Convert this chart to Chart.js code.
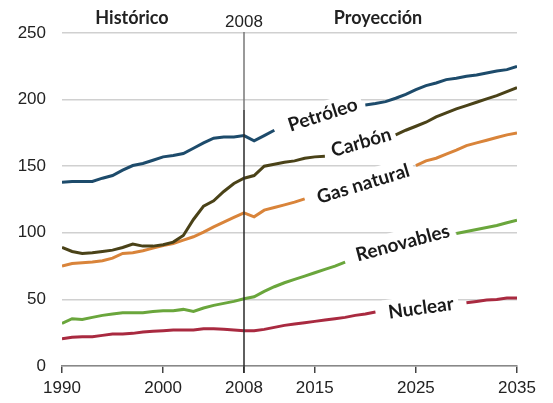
<!DOCTYPE html>
<html>
<head>
<meta charset="utf-8">
<script src="https://cdn.jsdelivr.net/npm/chart.js@4/dist/chart.umd.min.js"></script>
<style>
  html, body { margin: 0; padding: 0; background: #fff; }
  #box { width: 553px; height: 403px; }
</style>
</head>
<body>
<div id="box"><canvas id="dataChart"></canvas></div>
<script>
// years 1990..2035, null where the line is hidden behind its label
const years = [];
for (let y = 1990; y <= 2035; y++) years.push(y);

const petroleo = [138, 138.5, 138.5, 138.5, 141, 143, 147, 150.5, 152, 154.5,
  157, 158, 159.5, 163.5, 167.5, 171, 172, 172, 173, 169,
  173, 177, null, null, null, null, null, null, null, null,
  196, 197, 198.5, 201, 204, 207.5, 210.5, 212.5, 215, 216,
  217.5, 218.5, 220, 221.5, 222.5, 225];

const carbon = [89, 86, 84.5, 85, 86, 87, 89, 91.5, 90, 90,
  91, 93, 98, 110, 120, 124, 131, 137, 141, 143,
  150, 151.5, 153, 154, 156, 157, 157.5, null, null, null,
  null, null, null, 173.5, 177, 180, 183, 187, 190, 193,
  195.5, 198, 200.5, 203, 206, 209];

const gasNatural = [75, 77, 77.5, 78, 79, 81, 84.5, 85, 86.5, 88.5,
  90.5, 92, 94.5, 97, 100.5, 104.5, 108, 111.5, 115, 112,
  117, 119, 121, 123, 125.5, null, null, null, null, null,
  null, null, null, null, null, 150.5, 154, 156, 159, 162,
  165.5, 167.5, 169.5, 171.5, 173.5, 175];

const renovables = [32, 35.5, 35, 36.5, 38, 39, 40, 40, 40, 41,
  41.5, 41.5, 42.5, 41, 43.5, 45.5, 47, 48.5, 50.5, 52,
  56, 59.5, 62.5, 65, 67.5, 70, 72.5, 75, 78, null,
  null, null, null, null, null, null, null, null, null, 99.5,
  101, 102.5, 104, 105.5, 107.5, 109.5];

const nuclear = [20.5, 21.5, 22, 22, 23, 24, 24, 24.5, 25.5, 26,
  26.5, 27, 27, 27, 28, 28, 27.5, 27, 26.5, 26.5,
  27.5, 29, 30.5, 31.5, 32.5, 33.5, 34.5, 35.5, 36.5, 38,
  39, 40.5, null, null, null, null, null, null, null, null,
  47.5, 48.5, 49.5, 50, 51, 51];

const xTicks = [1990, 2000, 2008, 2015, 2025, 2035];
const yTicks = [0, 50, 100, 150, 200, 250];
const seriesNames = ['Petróleo', 'Carbón', 'Gas natural', 'Renovables', 'Nuclear'];
const splitYear = 2008;

const colors = ['#1d4b6b', '#4a4218', '#d9843a', '#6aa63c', '#a92a40'];
const allSeries = [petroleo, carbon, gasNatural, renovables, nuclear];

// where each name sits (data coords) and its tilt
const labelPos = [
  { x: 2015.8, y: 188.5, rot: -18 },
  { x: 2019.6, y: 167.8, rot: -16 },
  { x: 2019.8, y: 136.6, rot: -17 },
  { x: 2023.7, y: 92.3, rot: -15 },
  { x: 2025.5, y: 43.4, rot: -8 },
];

const labelFont = 'bold 19px Lato, "Open Sans", sans-serif';

const decoPlugin = {
  id: 'deco',
  beforeDatasetsDraw(chart) {
    // white boxes under the names cut the gridlines
    const { ctx, scales } = chart;
    ctx.save();
    ctx.font = labelFont;
    labelPos.forEach((p, i) => {
      const w = ctx.measureText(seriesNames[i]).width + 10;
      ctx.save();
      ctx.translate(scales.x.getPixelForValue(p.x), scales.y.getPixelForValue(p.y));
      ctx.rotate(p.rot * Math.PI / 180);
      ctx.fillStyle = '#fff';
      ctx.fillRect(-w / 2, -13, w, 26);
      ctx.restore();
    });
    ctx.restore();
  },
  afterDatasetsDraw(chart) {
    const { ctx, scales, chartArea } = chart;
    const sx = scales.x.getPixelForValue(splitYear);
    ctx.save();
    ctx.lineWidth = 1.5;
    ctx.strokeStyle = '#777';
    ctx.beginPath();
    ctx.moveTo(sx, chartArea.top - 1);
    ctx.lineTo(sx, 110);
    ctx.stroke();
    ctx.strokeStyle = '#2a2a2a';
    ctx.beginPath();
    ctx.moveTo(sx, 110);
    ctx.lineTo(sx, chartArea.bottom + 7);
    ctx.stroke();

    // series names
    ctx.font = labelFont;
    ctx.fillStyle = '#1a1a1a';
    ctx.textAlign = 'center';
    ctx.textBaseline = 'middle';
    labelPos.forEach((p, i) => {
      ctx.save();
      ctx.translate(scales.x.getPixelForValue(p.x), scales.y.getPixelForValue(p.y));
      ctx.rotate(p.rot * Math.PI / 180);
      ctx.fillText(seriesNames[i], 0, 0);
      ctx.restore();
    });

    // top texts
    ctx.fillStyle = '#222';
    ctx.font = 'bold 18px Lato, "Open Sans", sans-serif';
    ctx.fillText('Histórico', 132, 18);
    ctx.fillText('Proyección', 378, 18);
    ctx.font = '17px "Liberation Sans", Arial, sans-serif';
    ctx.fillText(String(splitYear), sx, 22);
    ctx.restore();
  }
};

const ctx = document.getElementById('dataChart').getContext('2d');
const chartObj = new Chart(ctx, {
  type: 'line',
  data: {
    labels: years,
    datasets: allSeries.map((d, i) => ({
      label: seriesNames[i],
      data: d.map((v, k) => ({ x: years[k], y: v })),
      borderColor: colors[i],
      backgroundColor: colors[i],
      borderWidth: 3,
      pointRadius: 0,
      tension: 0,
      spanGaps: false,
      fill: false,
    }))
  },
  options: {
    responsive: true,
    maintainAspectRatio: false,
    animation: false,
    layout: { padding: { top: 33, right: 36, left: 0, bottom: 0 } },
    plugins: {
      legend: { display: false },
      tooltip: { enabled: false },
    },
    scales: {
      x: {
        type: 'linear',
        min: 1990,
        max: 2035,
        afterBuildTicks: s => { s.ticks = xTicks.map(v => ({ value: v })); },
        afterFit: s => { s.height = 37; },
        ticks: {
          autoSkip: false,
          maxRotation: 0,
          padding: 5,
          color: '#222',
          font: { family: '"Liberation Sans", Arial, sans-serif', size: 17 },
          callback: v => String(v),
        },
        grid: { drawOnChartArea: false, drawTicks: true, tickLength: 7, color: '#444', lineWidth: 1.5 },
        border: { display: true, color: '#888', width: 1.5 },
      },
      y: {
        min: 0,
        max: 250,
        afterBuildTicks: s => { s.ticks = yTicks.map(v => ({ value: v })); },
        afterFit: s => { s.width = 62; },
        ticks: {
          padding: 16,
          color: '#222',
          font: { family: '"Liberation Sans", Arial, sans-serif', size: 17 },
        },
        grid: { color: '#d0d0d0', lineWidth: 1.5, drawTicks: false },
        border: { display: false },
      }
    }
  },
  plugins: [decoPlugin]
});
</script>
</body>
</html>
